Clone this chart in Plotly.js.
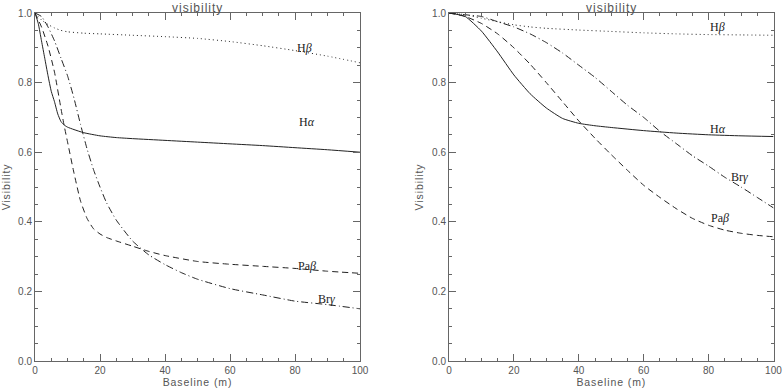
<!DOCTYPE html>
<html>
<head>
<meta charset="utf-8">
<script src="https://cdn.plot.ly/plotly-3.0.1.min.js"></script>
<style>
html,body{margin:0;padding:0;background:#fff;overflow:hidden}#chart{width:783px;height:389px}
.xtitle,.x2title,.ytitle,.y2title{letter-spacing:0.9px}
.annotation[data-index="0"] text,.annotation[data-index="5"] text{letter-spacing:1px}
</style>
</head>
<body>
<div id="chart"></div>
<script>
// ---- Left panel data ----
const leftHaX = [0,1,2,3,4,5,6,7,8,9,10,12,15,20,25,30,40,50,60,70,80,90,100];
const leftHaY = [1.0,0.97,0.92,0.87,0.82,0.775,0.745,0.71,0.688,0.678,0.672,0.665,0.656,0.647,0.642,0.639,0.634,0.629,0.624,0.619,0.613,0.607,0.60];

const leftHbX = [0,1,2,4,6,8,10,15,20,30,40,50,60,70,80,90,100];
const leftHbY = [1.0,0.99,0.98,0.967,0.957,0.95,0.946,0.942,0.94,0.936,0.932,0.927,0.918,0.906,0.892,0.876,0.857];

const leftPbX = [0,2,4,6,8,9,10,12,14,16,18,20,22,25,30,35,40,50,60,70,80,90,100];
const leftPbY = [1.0,0.96,0.905,0.83,0.725,0.675,0.63,0.54,0.46,0.41,0.38,0.365,0.355,0.345,0.33,0.315,0.303,0.286,0.278,0.272,0.266,0.258,0.252];

const leftBgX = [0,2,4,6,8,10,12,14,16,18,20,22,25,30,35,40,45,50,60,70,80,90,100];
const leftBgY = [1.0,0.99,0.96,0.92,0.87,0.82,0.755,0.68,0.61,0.55,0.5,0.455,0.405,0.345,0.305,0.277,0.254,0.235,0.208,0.19,0.172,0.162,0.15];

// ---- Right panel data ----
const rightHaX = [0,5,10,15,20,25,30,35,40,45,50,60,70,80,90,100];
const rightHaY = [1.0,0.99,0.948,0.888,0.822,0.768,0.727,0.697,0.683,0.676,0.671,0.662,0.655,0.65,0.647,0.645];

const rightHbX = [0,5,10,15,20,25,30,40,50,60,70,80,90,100];
const rightHbY = [1.0,0.995,0.985,0.975,0.966,0.96,0.956,0.951,0.947,0.943,0.94,0.938,0.937,0.936];

const rightPbX = [0,5,10,15,20,25,30,35,40,45,50,55,60,65,70,75,80,85,90,95,100];
const rightPbY = [1.0,0.99,0.97,0.94,0.9,0.853,0.8,0.745,0.69,0.64,0.593,0.548,0.505,0.47,0.438,0.41,0.39,0.376,0.367,0.361,0.357];

const rightBgX = [0,5,10,15,20,25,30,35,40,45,50,55,60,65,70,75,80,85,90,95,100];
const rightBgY = [1.0,0.995,0.99,0.975,0.96,0.94,0.915,0.885,0.85,0.815,0.775,0.735,0.7,0.66,0.625,0.59,0.56,0.528,0.5,0.47,0.44];

// ---- Ticks and labels ----
const xTickVals = [0,20,40,60,80,100];
const xTickText = ["0","20","40","60","80","100"];
const yTickVals = [0,0.2,0.4,0.6,0.8,1.0];
const yTickText = ["0.0","0.2","0.4","0.6","0.8","1.0"];
const panelTitle = "visibility";
const xTitle = "Baseline (m)";
const yTitle = "Visibility";
const lineNames = ["H<i>α</i>", "H<i>β</i>", "Pa<i>β</i>", "Br<i>γ</i>"];
const leftLabelX = [83.7, 83, 83.7, 89.8];
const leftLabelY = [0.687, 0.90, 0.273, 0.178];
const rightLabelX = [82.8, 82.8, 83.4, 89.5];
const rightLabelY = [0.667, 0.96, 0.41, 0.53];

const lineColor = "#222";
const dashes = ["solid", "1px,3px", "6px,4px", "7px,3px,1px,3px"];

const leftSets = [[leftHaX,leftHaY],[leftHbX,leftHbY],[leftPbX,leftPbY],[leftBgX,leftBgY]];
const rightSets = [[rightHaX,rightHaY],[rightHbX,rightHbY],[rightPbX,rightPbY],[rightBgX,rightBgY]];

const traces = [];
leftSets.forEach((s,i)=>traces.push({x:s[0],y:s[1],xaxis:'x',yaxis:'y',mode:'lines',
  line:{color:lineColor,width:1,dash:dashes[i],shape:'spline',smoothing:0.5},name:lineNames[i],hoverinfo:'skip'}));
rightSets.forEach((s,i)=>traces.push({x:s[0],y:s[1],xaxis:'x2',yaxis:'y2',mode:'lines',
  line:{color:lineColor,width:1,dash:dashes[i],shape:'spline',smoothing:0.5},name:lineNames[i],hoverinfo:'skip'}));

const sansFam = "Liberation Sans, Arial, sans-serif";
const tickFont = {family:sansFam, size:10, color:"#555"};
const titleFont = {family:sansFam, size:10.5, color:"#555"};

function xax(anchor, domain, range){
  return {domain:domain, anchor:anchor, range:range, tickmode:'array', tickvals:xTickVals, ticktext:xTickText,
    ticks:'inside', ticklen:7, tickcolor:'#666', tickwidth:1, showline:true, linecolor:'#666', linewidth:1,
    mirror:'ticks', showgrid:false, zeroline:false, tickfont:tickFont, ticklabeloverflow:'allow',
    minor:{dtick:5, tick0:0, ticks:'inside', ticklen:3, tickcolor:'#666', showgrid:false},
    title:{text:xTitle, font:titleFont, standoff:1}};
}
function yax(anchor){
  return {domain:[0,1], anchor:anchor, range:[0,1], tickmode:'array', tickvals:yTickVals, ticktext:yTickText,
    ticks:'inside', ticklen:7, tickcolor:'#666', tickwidth:1, showline:true, linecolor:'#666', linewidth:1,
    mirror:'ticks', showgrid:false, zeroline:false, tickfont:tickFont, ticklabeloverflow:'allow',
    minor:{dtick:0.05, tick0:0, ticks:'inside', ticklen:3, tickcolor:'#666', showgrid:false},
    title:{text:yTitle, font:titleFont, standoff:6}};
}

const annotations = [];
[[0,0.4398,'x','y',leftLabelX,leftLabelY],[0.5602,0.9995,'x2','y2',rightLabelX,rightLabelY]].forEach(p=>{
  annotations.push({xref:'paper',yref:'paper',x:(p[0]+p[1])/2,y:1,yanchor:'bottom',xanchor:'center',
    text:panelTitle,showarrow:false,font:{family:sansFam,size:12,color:"#555"},yshift:-4});
  lineNames.forEach((n,i)=>annotations.push({xref:p[2],yref:p[3],x:p[4][i],y:p[5][i],text:n,showarrow:false,
    xanchor:'center',yanchor:'middle',font:{family:"Liberation Serif, Times New Roman, serif",size:12,color:"#222"}}));
});

const layout = {
  width:783, height:389, margin:{l:35,r:9,t:13,b:28}, showlegend:false,
  paper_bgcolor:'#fff', plot_bgcolor:'#fff',
  xaxis:xax('y',[0,0.4398],[0,100]), yaxis:yax('x'),
  xaxis2:xax('y2',[0.5602,0.9995],[0,100.05]), yaxis2:yax('x2'),
  annotations:annotations
};
Plotly.newPlot('chart', traces, layout, {staticPlot:true, displayModeBar:false});
</script>
</body>
</html>
